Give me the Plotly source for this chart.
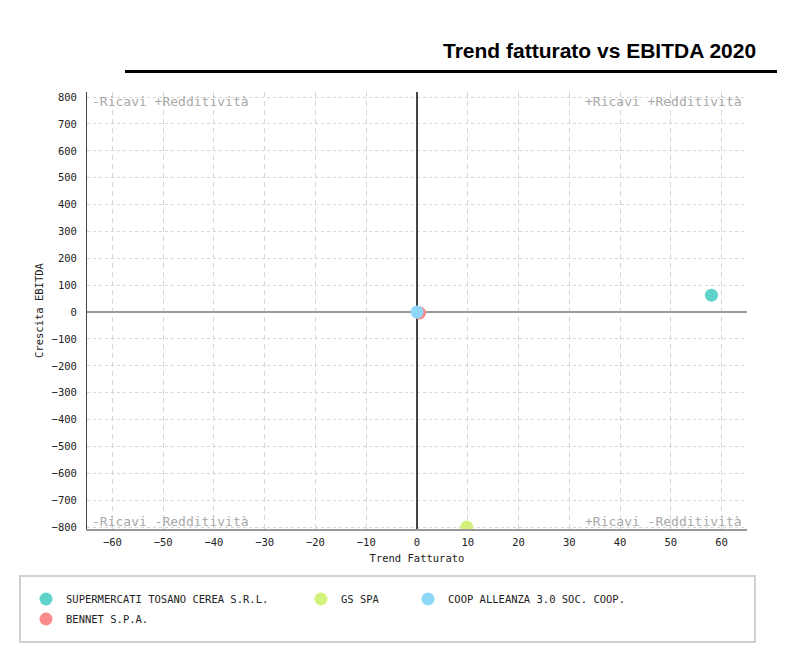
import plotly.graph_objects as go

# dati
aziende = ["SUPERMERCATI TOSANO CEREA S.R.L.", "GS SPA", "BENNET S.P.A.", "COOP ALLEANZA 3.0 SOC. COOP."]
trend_fatturato = [58.0, 9.8, 0.5, 0.0]
crescita_ebitda = [63, -800, -3, 0]
colori = ["#5fd3ca", "#d3f27c", "#f98b8a", "#8fd7f7"]
legende = ["legend", "legend2", "legend4", "legend3"]

quadranti = ["-Ricavi +Redditività", "+Ricavi +Redditività", "-Ricavi -Redditività", "+Ricavi -Redditività"]

MONO = "DejaVu Sans Mono"

fig = go.Figure()
for nome, x, y, col, leg in zip(aziende, trend_fatturato, crescita_ebitda, colori, legende):
    fig.add_trace(go.Scatter(
        x=[x], y=[y], mode="markers", name=nome, legend=leg,
        marker=dict(size=13, color=col, line=dict(width=0)),
    ))

# etichette dei quadranti
pos_q = [(0.004, 0.999, "left", "top"), (0.996, 0.999, "right", "top"),
         (0.004, -0.005, "left", "bottom"), (0.996, -0.005, "right", "bottom")]
annotations = []
for testo, (px, py, xa, ya) in zip(quadranti, pos_q):
    annotations.append(dict(
        text=testo, x=px, y=py, xref="paper", yref="paper", xanchor=xa, yanchor=ya,
        showarrow=False, font=dict(family=MONO, size=13, color="#a8a8a8"),
    ))

annotations.append(dict(
    text="<b>Trend fatturato vs EBITDA 2020</b>", x=1.016, y=1.094, xref="paper", yref="paper",
    xanchor="right", yanchor="middle", showarrow=False,
    font=dict(family="Liberation Sans", size=21, color="black"),
))

shapes = [
    dict(type="line", xref="paper", yref="paper", x0=0.0576, x1=1.07, y0=1.047, y1=1.047,
         line=dict(color="black", width=3)),
    dict(type="rect", xref="paper", yref="paper", x0=-0.1015, x1=1.012, y0=-0.2586, y1=-0.1076,
         line=dict(color="#d0d0d0", width=2)),
]

leg_font = dict(family=MONO, size=10.5, color="#222")
def leg(x, y):
    return dict(x=x, y=y, xref="paper", yref="paper", xanchor="left", yanchor="middle",
                font=leg_font, bgcolor="rgba(0,0,0,0)", borderwidth=0, itemclick=False,
                itemwidth=30)

px_w, px_h = 660, 437
def lx(p):
    return (p - 87 - 20) / px_w
def ly(p):
    return (529 - p) / px_h

# la pagina ha un margine di 8px attorno alla figura
fig.update_layout(
    width=785, height=653,
    margin=dict(l=79, r=46, t=84, b=132),
    paper_bgcolor="white", plot_bgcolor="white",
    showlegend=True,
    legend=leg(lx(46), ly(599)),
    legend2=leg(lx(321), ly(599)),
    legend3=leg(lx(428), ly(599)),
    legend4=leg(lx(46), ly(619)),
    annotations=annotations,
    shapes=shapes,
    font=dict(family=MONO, size=10.5, color="#222"),
)

fig.update_xaxes(
    range=[-65, 65], dtick=10, tick0=0,
    showgrid=True, gridcolor="#d6d6d6", griddash="5px,4px", gridwidth=1,
    zeroline=True, zerolinecolor="#444", zerolinewidth=1.5,
    showline=True, linecolor="#999", linewidth=2,
    ticks="", ticklabelstandoff=2, tickfont=dict(family=MONO, size=10.5, color="#222"),
    title=dict(text="Trend Fatturato", font=dict(family=MONO, size=10.5, color="#222"), standoff=8),
)
fig.update_yaxes(
    range=[-807, 819], dtick=100, tick0=0,
    showgrid=True, gridcolor="#d6d6d6", griddash="3px,3px", gridwidth=1,
    zeroline=True, zerolinecolor="#999", zerolinewidth=2,
    showline=True, linecolor="#444", linewidth=1,
    ticks="", ticklabelstandoff=7, tickfont=dict(family=MONO, size=10.5, color="#222"),
    title=dict(text="Crescita EBITDA", font=dict(family=MONO, size=10.5, color="#222"), standoff=5),
)

fig.write_html("out.html")
